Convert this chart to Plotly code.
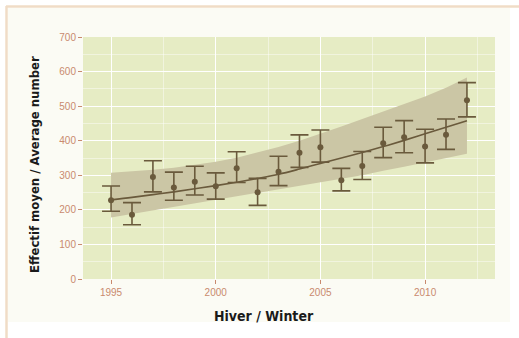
import plotly.graph_objects as go

# Winter counts: mean number per winter with error bars, fitted trend and confidence band
years = list(range(1995, 2013))
mean_count = [228, 186, 295, 265, 281, 268, 320, 251, 310, 365, 381, 286, 327, 393, 410, 383, 417, 517]
err_upper = [269, 221, 342, 309, 326, 307, 368, 291, 355, 417, 431, 320, 369, 439, 458, 433, 463, 568]
err_lower = [196, 157, 252, 228, 243, 231, 279, 213, 270, 323, 338, 255, 288, 351, 365, 336, 375, 469]
trend = [229, 236, 244, 252, 261, 270, 280, 291, 303, 318, 334, 350, 366, 383, 401, 420, 439, 458]
band_upper = [307, 311, 316, 322, 330, 339, 351, 366, 382, 400, 420, 441, 463, 485, 506, 528, 553, 583]
band_lower = [178, 188, 198, 209, 219, 230, 240, 250, 260, 270, 280, 290, 300, 313, 325, 336, 349, 362]

x_ticks = [1995, 2000, 2005, 2010]
y_ticks = [0, 100, 200, 300, 400, 500, 600, 700]

brown = "#6a5a3c"
tick_col = "#c98a6e"
fig = go.Figure()

# confidence band
fig.add_trace(go.Scatter(
    x=years + years[::-1], y=band_upper + band_lower[::-1],
    fill="toself", fillcolor="#cbc6a5", line=dict(width=0),
    mode="lines", hoverinfo="skip", showlegend=False))

# fitted trend
fig.add_trace(go.Scatter(
    x=years, y=trend, mode="lines", line_shape="spline",
    line=dict(color=brown, width=1.6), showlegend=False))

# yearly means with error bars
fig.add_trace(go.Scatter(
    x=years, y=mean_count, mode="markers",
    marker=dict(color=brown, size=6),
    error_y=dict(type="data", symmetric=False,
                 array=[u - m for u, m in zip(err_upper, mean_count)],
                 arrayminus=[m - l for m, l in zip(mean_count, err_lower)],
                 color=brown, thickness=1.6, width=9),
    showlegend=False))

axis_font = dict(family="Liberation Sans, Arial, sans-serif", size=10, color=tick_col)
narrow = "DejaVu Sans Condensed, Liberation Sans Narrow, Roboto, sans-serif"

# paper-coordinate helpers (plot area spans x 83..495 px, y 37..279 px)
def px(x):
    return (x - 83) / 412

def py(y):
    return (279 - y) / 242

fig.update_layout(
    width=519, height=338,
    margin=dict(l=83, r=24, t=37, b=59),
    paper_bgcolor="#fbfbf4",
    plot_bgcolor="#e6ecc4",
    xaxis=dict(range=[1993.66, 2013.34], tickvals=x_ticks, ticks="outside",
               ticklen=4, tickcolor=tick_col, tickfont=axis_font,
               showgrid=True, gridcolor="#ffffff", gridwidth=1.2, zeroline=False,
               minor=dict(tickvals=[1997.5, 2002.5, 2007.5, 2012.5], showgrid=True,
                          gridcolor="rgba(255,255,255,0.45)", gridwidth=0.8, ticks=""),
               showline=False),
    yaxis=dict(range=[0, 700], tickvals=y_ticks, ticks="outside",
               ticklen=4, tickcolor=tick_col, tickfont=axis_font,
               showgrid=True, gridcolor="#ffffff", gridwidth=1.2, zeroline=False,
               minor=dict(tickvals=[50, 150, 250, 350, 450, 550, 650], showgrid=True,
                          gridcolor="rgba(255,255,255,0.45)", gridwidth=0.8, ticks=""),
               showline=False),
    annotations=[
        dict(text="<b>Hiver / Winter</b>", xref="paper", yref="paper",
             x=px(264), y=py(316), xanchor="center", yanchor="middle", showarrow=False,
             font=dict(family=narrow, size=14, color="#1a1a1a")),
        dict(text="<b>Effectif moyen / Average number</b>", xref="paper", yref="paper",
             x=px(34), y=py(165), xanchor="center", yanchor="middle", showarrow=False,
             textangle=-90, font=dict(family=narrow, size=13, color="#1a1a1a")),
    ],
    shapes=[
        # white strips around the off-white card
        dict(type="rect", xref="paper", yref="paper", layer="below",
             x0=px(510), x1=px(520), y0=py(340), y1=py(0),
             fillcolor="#ffffff", line=dict(width=0)),
        dict(type="rect", xref="paper", yref="paper", layer="below",
             x0=px(0), x1=px(520), y0=py(340), y1=py(322),
             fillcolor="#ffffff", line=dict(width=0)),
        dict(type="rect", xref="paper", yref="paper", layer="below",
             x0=px(0), x1=px(520), y0=py(8), y1=py(0),
             fillcolor="#ffffff", line=dict(width=0)),
        dict(type="rect", xref="paper", yref="paper", layer="below",
             x0=px(0), x1=px(8), y0=py(340), y1=py(0),
             fillcolor="#ffffff", line=dict(width=0)),
        # tan frame: top and left edges
        dict(type="line", xref="paper", yref="paper",
             x0=px(6), x1=px(519), y0=py(6.5), y1=py(6.5),
             line=dict(color="#f0dcc6", width=2.5)),
        dict(type="line", xref="paper", yref="paper",
             x0=px(6.5), x1=px(6.5), y0=py(6), y1=py(338),
             line=dict(color="#f0dcc6", width=2.5)),
    ],
)

fig.write_html("out.html")
